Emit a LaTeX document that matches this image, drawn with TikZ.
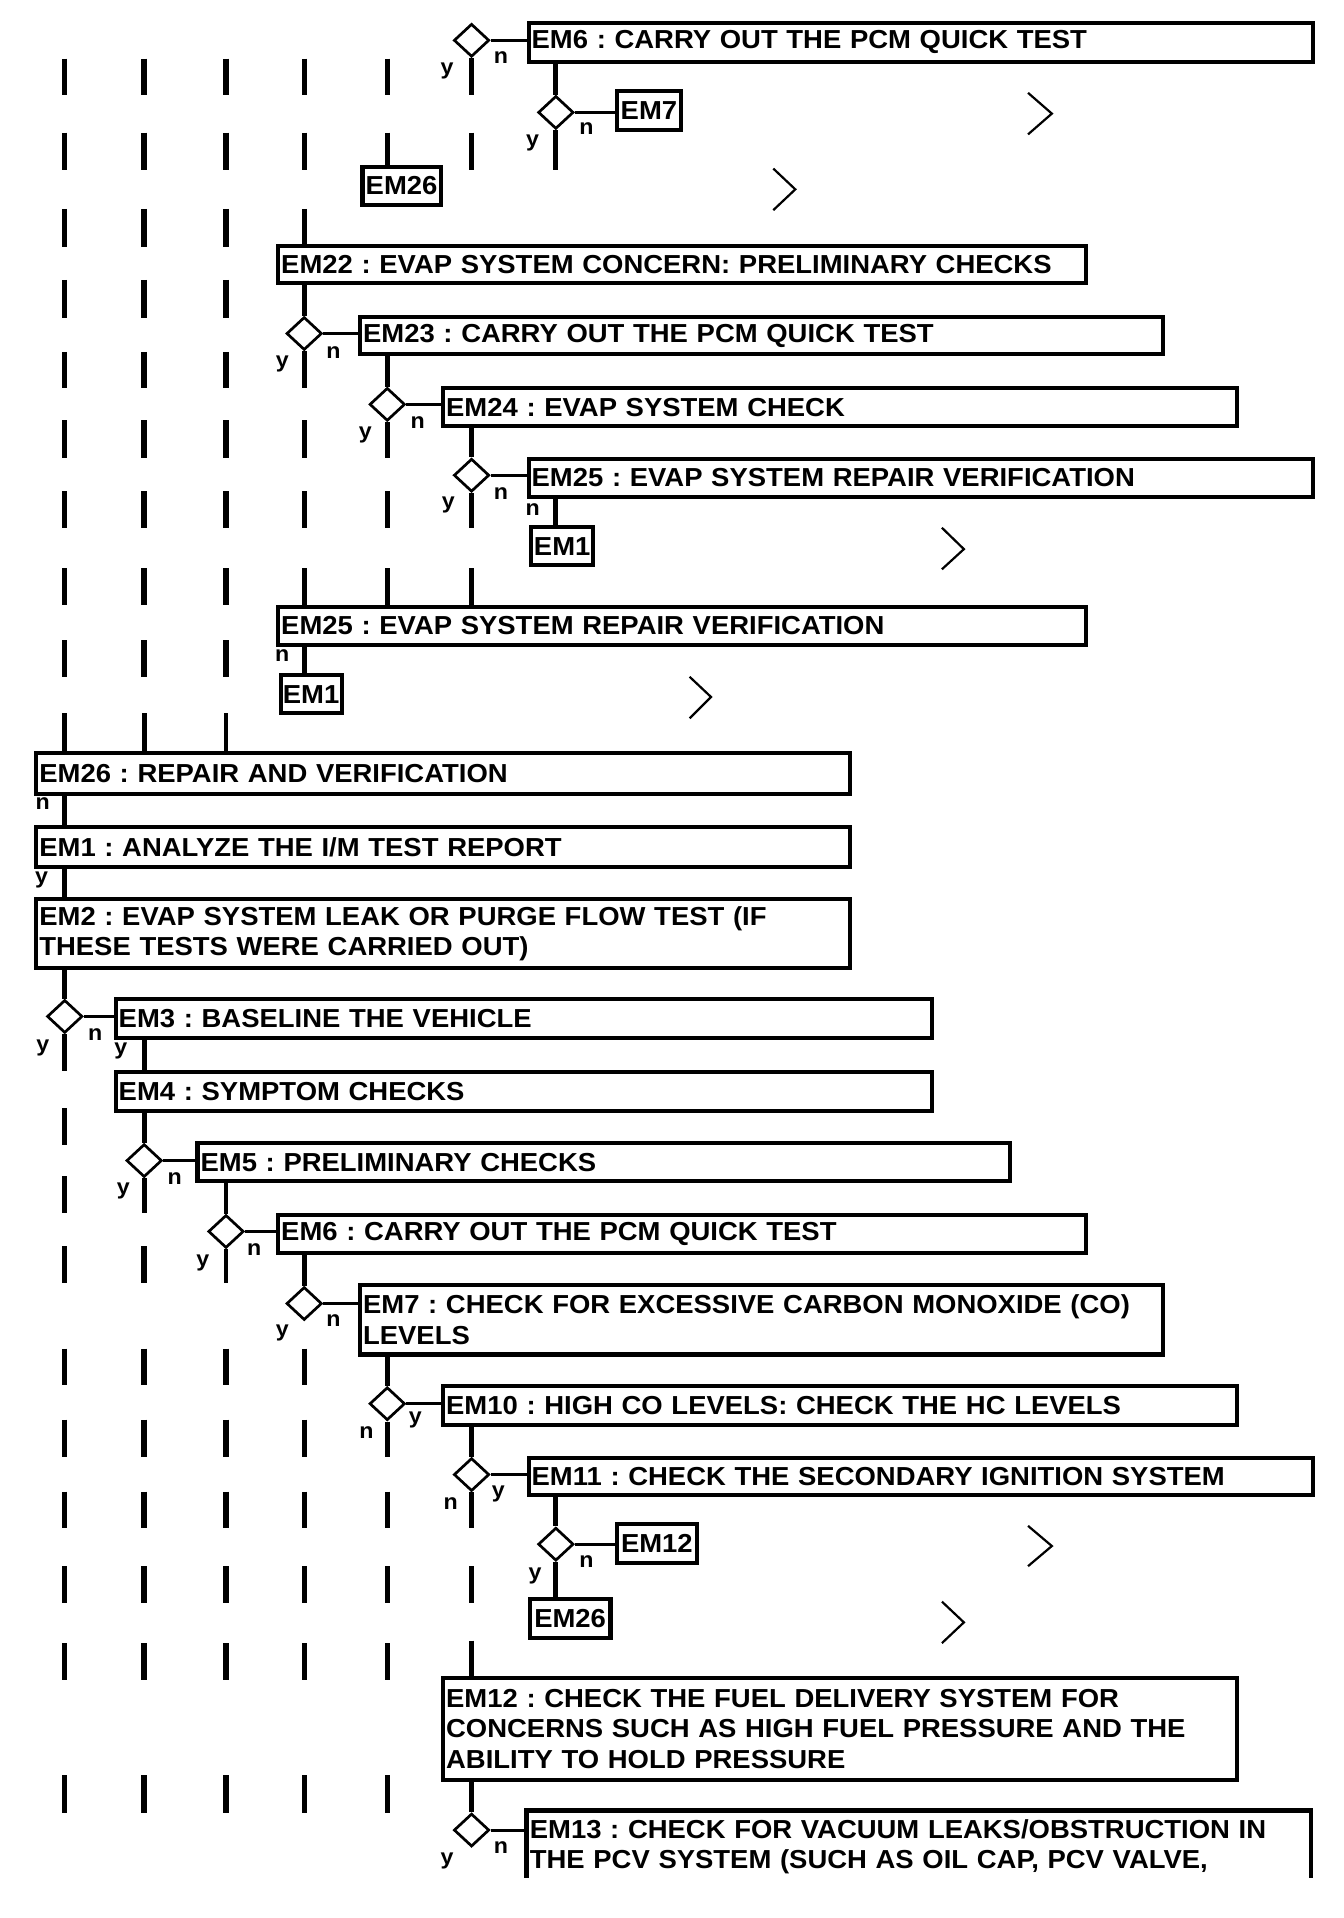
\documentclass[tikz,border=0pt]{standalone}
\usepackage{fontspec}
\setmainfont{Liberation Sans}[FakeStretch=1.055]
\usetikzlibrary{shapes.geometric}
\frenchspacing
\newcommand\boxfnt{\fontsize{21.3}{25}\selectfont\bfseries\frenchspacing}
\newcommand\lblfnt{\fontsize{18}{20}\selectfont\bfseries}
\newcommand\flowbox[6]{%
  \pgfmathsetmacro\bw{#4-#2}\pgfmathsetmacro\bh{#5-#3}\pgfmathsetmacro\tw{#4-#2-5}%
  \node[box, minimum width=\bw pt, minimum height=\bh pt, text width=\tw pt] (#1) at (#2,#3) {#6};}
\newcommand\smallflowbox[6]{%
  \pgfmathsetmacro\bw{#4-#2}\pgfmathsetmacro\bh{#5-#3}%
  \node[box, inner xsep=0pt, align=center, minimum width=\bw pt, minimum height=\bh pt] (#1) at (#2,#3) {#6};}
\newcommand\flowdia[3]{\node[dia] (#1) at (#2,#3) {};}
\begin{document}
\begin{tikzpicture}[x=1pt,y=-1pt,
  box/.style={draw, line width=3.4pt, anchor=north west, inner xsep=2.5pt, inner ysep=0pt, align=left, font=\boxfnt},
  dia/.style={diamond, draw, line width=2.2pt, minimum width=29pt, minimum height=27pt, inner sep=0pt},
  conn/.style={line width=4pt},
  link/.style={line width=2.5pt},
  seg/.style={line width=4.4pt},
  lbl/.style={font=\lblfnt, inner sep=0pt},
  chev/.style={line width=1.8pt}]
\useasboundingbox[fill=white] (0,0) rectangle (1100,1570);
% columns
\coordinate (c1) at (53,0);
\coordinate (c2) at (118,0);
\coordinate (c3) at (185,0);
\coordinate (c4) at (249,0);
\coordinate (c5) at (317,0);
\coordinate (c6) at (386,0);
\coordinate (c7) at (455,0);
% boxes
\flowbox{b1}{431}{17}{1073}{49}{EM6 : CARRY OUT THE PCM QUICK TEST}
\smallflowbox{b2}{503}{73}{556}{105}{EM7}
\smallflowbox{b3}{295}{135}{359}{166}{EM26}
\flowbox{b4}{226}{200}{887}{230}{EM22 : EVAP SYSTEM CONCERN: PRELIMINARY CHECKS}
\flowbox{b5}{293}{258}{950}{288}{EM23 : CARRY OUT THE PCM QUICK TEST}
\flowbox{b6}{361}{316}{1011}{347}{EM24 : EVAP SYSTEM CHECK}
\flowbox{b7}{431}{374}{1073}{405}{EM25 : EVAP SYSTEM REPAIR VERIFICATION}
\smallflowbox{b8}{433}{430}{484}{461}{EM1}
\flowbox{b9}{226}{495}{887}{526}{EM25 : EVAP SYSTEM REPAIR VERIFICATION}
\smallflowbox{b10}{228}{551}{278}{582}{EM1}
\flowbox{b11}{28}{615}{694}{648}{EM26 : REPAIR AND VERIFICATION}
\flowbox{b12}{28}{675}{694}{708}{EM1 : ANALYZE THE I/M TEST REPORT}
\flowbox{b13}{28}{734}{694}{791}{EM2 : EVAP SYSTEM LEAK OR PURGE FLOW TEST (IF\\THESE TESTS WERE CARRIED OUT)}
\flowbox{b14}{93}{816}{761}{848}{EM3 : BASELINE THE VEHICLE}
\flowbox{b15}{93}{876}{761}{908}{EM4 : SYMPTOM CHECKS}
\flowbox{b16}{160}{934}{825}{965}{EM5 : PRELIMINARY CHECKS}
\flowbox{b17}{226}{993}{887}{1024}{EM6 : CARRY OUT THE PCM QUICK TEST}
\flowbox{b18}{293}{1050}{950}{1107}{EM7 : CHECK FOR EXCESSIVE CARBON MONOXIDE (CO)\\LEVELS}
\flowbox{b19}{361}{1133}{1011}{1165}{EM10 : HIGH CO LEVELS: CHECK THE HC LEVELS}
\flowbox{b20}{431}{1192}{1073}{1222}{EM11 : CHECK THE SECONDARY IGNITION SYSTEM}
\smallflowbox{b21}{503}{1246}{569}{1278}{EM12}
\smallflowbox{b22}{432}{1307}{498}{1339}{EM26}
\flowbox{b23}{361}{1372}{1011}{1455}{EM12 : CHECK THE FUEL DELIVERY SYSTEM FOR\\CONCERNS SUCH AS HIGH FUEL PRESSURE AND THE\\ABILITY TO HOLD PRESSURE}
\begin{scope}
  \clip (0,0) rectangle (1100,1537);
  \draw[line width=3.4pt] (431,1560) -- (431,1482) -- (1073,1482) -- (1073,1560);
  \node[anchor=north west, font=\boxfnt, align=left, text width=637pt, inner xsep=2.5pt, inner ysep=0pt] (b24) at (431,1489)
    {EM13 : CHECK FOR VACUUM LEAKS/OBSTRUCTION IN\\THE PCV SYSTEM (SUCH AS OIL CAP, PCV VALVE,};
\end{scope}
% diamonds
\flowdia{d1}{386}{33}
\flowdia{d2}{455}{92}
\flowdia{d3}{249}{273}
\flowdia{d4}{317}{331}
\flowdia{d5}{386}{389}
\flowdia{d6}{53}{832}
\flowdia{d7}{118}{950}
\flowdia{d8}{185}{1008}
\flowdia{d9}{249}{1067}
\flowdia{d10}{317}{1149}
\flowdia{d11}{386}{1207}
\flowdia{d12}{455}{1264}
\flowdia{d13}{386}{1498}
% links diamond -> box
\draw[link] (d1.east) -- (d1.east -| b1.west);
\draw[link] (d2.east) -- (d2.east -| b2.west);
\draw[link] (d3.east) -- (d3.east -| b5.west);
\draw[link] (d4.east) -- (d4.east -| b6.west);
\draw[link] (d5.east) -- (d5.east -| b7.west);
\draw[link] (d6.east) -- (d6.east -| b14.west);
\draw[link] (d7.east) -- (d7.east -| b16.west);
\draw[link] (d8.east) -- (d8.east -| b17.west);
\draw[link] (d9.east) -- (d9.east -| b18.west);
\draw[link] (d10.east) -- (d10.east -| b19.west);
\draw[link] (d11.east) -- (d11.east -| b20.west);
\draw[link] (d12.east) -- (d12.east -| b21.west);
\draw[link] (d13.east) -- (d13.east -| b24.west);
% free ends
\coordinate (e1) at (386,78);
\coordinate (e2) at (455,139);
\coordinate (e3) at (249,318);
\coordinate (e4) at (317,375);
\coordinate (e5) at (386,432);
\coordinate (e6) at (53,877);
\coordinate (e7) at (118,993);
\coordinate (e8) at (185,1050);
\coordinate (e10) at (317,1193);
\coordinate (e11) at (386,1251);
\coordinate (s1) at (386,1343);
\coordinate (s2) at (317,108.5);
\coordinate (s3) at (249,171);
% vertical connectors
\draw[conn] (b1.south -| c7) -- (d2.north);
\draw[conn] (d1.south) -- (e1);
\draw[conn] (d2.south) -- (e2);
\draw[conn] (s2) -- (b3.north -| c5);
\draw[conn] (s3) -- (b4.north -| c4);
\draw[conn] (b4.south -| c4) -- (d3.north);
\draw[conn] (d3.south) -- (e3);
\draw[conn] (b5.south -| c5) -- (d4.north);
\draw[conn] (d4.south) -- (e4);
\draw[conn] (b6.south -| c6) -- (d5.north);
\draw[conn] (d5.south) -- (e5);
\draw[conn] (b7.south -| c7) -- (b8.north -| c7);
\foreach \c in {c4,c5,c6} \draw[conn] (\c |- 0,465) -- (b9.north -| \c);
\draw[conn] (b9.south -| c4) -- (b10.north -| c4);
\foreach \c in {c1,c2,c3} \draw[conn] (\c |- 0,584) -- (b11.north -| \c);
\draw[conn] (b11.south -| c1) -- (b12.north -| c1);
\draw[conn] (b12.south -| c1) -- (b13.north -| c1);
\draw[conn] (b13.south -| c1) -- (d6.north);
\draw[conn] (d6.south) -- (e6);
\draw[conn] (b14.south -| c2) -- (b15.north -| c2);
\draw[conn] (b15.south -| c2) -- (d7.north);
\draw[conn] (d7.south) -- (e7);
\draw[conn] (b16.south -| c3) -- (d8.north);
\draw[conn] (d8.south) -- (e8);
\draw[conn] (b17.south -| c4) -- (d9.north);
\draw[conn] (b18.south -| c5) -- (d10.north);
\draw[conn] (d10.south) -- (e10);
\draw[conn] (b19.south -| c6) -- (d11.north);
\draw[conn] (d11.south) -- (e11);
\draw[conn] (b20.south -| c7) -- (d12.north);
\draw[conn] (d12.south) -- (b22.north -| c7);
\draw[conn] (s1) -- (b23.north -| c6);
\draw[conn] (b23.south -| c6) -- (d13.north);
% continuation dashes
\foreach \x in {53,118,185,249,317} \draw[seg] (\x,48) -- (\x,78);
\foreach \x in {53,118,185,249,386} \draw[seg] (\x,108.5) -- (\x,139);
\foreach \x in {53,118,185} {
  \draw[seg] (\x,171) -- (\x,202);
  \draw[seg] (\x,229) -- (\x,260);
  \draw[seg] (\x,288) -- (\x,318);
  \draw[seg] (\x,465) -- (\x,495);
  \draw[seg] (\x,524) -- (\x,554);}
\foreach \x in {53,118,185,249} \draw[seg] (\x,344) -- (\x,375);
\foreach \x in {53,118,185,249,317} \draw[seg] (\x,402) -- (\x,432);
\draw[seg] (53,907) -- (53,937);
\draw[seg] (53,963) -- (53,993);
\foreach \x in {53,118} \draw[seg] (\x,1020) -- (\x,1050);
\foreach \x in {53,118,185,249} {
  \draw[seg] (\x,1104) -- (\x,1134);
  \draw[seg] (\x,1162) -- (\x,1193);}
\foreach \x in {53,118,185,249,317} {
  \draw[seg] (\x,1221) -- (\x,1251);
  \draw[seg] (\x,1345) -- (\x,1375);
  \draw[seg] (\x,1453) -- (\x,1484);}
\foreach \x in {53,118,185,249,317,386} \draw[seg] (\x,1282) -- (\x,1312);
% labels
\node[lbl] (l1y) at (366,58) {y};
\node[lbl] (l1n) at (410,47) {n};
\node[lbl] (l2y) at (436,117) {y};
\node[lbl] (l2n) at (480,105) {n};
\node[lbl] (l3y) at (231,298) {y};
\node[lbl] (l3n) at (273,289) {n};
\node[lbl] (l4y) at (299,356) {y};
\node[lbl] (l4n) at (342,346) {n};
\node[lbl] (l5y) at (367,413) {y};
\node[lbl] (l5n) at (410,404) {n};
\node[lbl] (l7n) at (436,417) {n};
\node[lbl] (l9n) at (231,537) {n};
\node[lbl] (l11n) at (35,658) {n};
\node[lbl] (l12y) at (34,720) {y};
\node[lbl] (l6y) at (35,858) {y};
\node[lbl] (l6n) at (78,847) {n};
\node[lbl] (l14y) at (99,860) {y};
\node[lbl] (l7y) at (101,975) {y};
\node[lbl] (l7nn) at (143,965) {n};
\node[lbl] (l8y) at (166,1034) {y};
\node[lbl] (l8n) at (208,1023) {n};
\node[lbl] (l9y) at (231,1091) {y};
\node[lbl] (l9nn) at (273,1081) {n};
\node[lbl] (l10n) at (300,1173) {n};
\node[lbl] (l10y) at (340,1162) {y};
\node[lbl] (l11nn) at (369,1231) {n};
\node[lbl] (l11y) at (408,1223) {y};
\node[lbl] (l12yy) at (438,1290) {y};
\node[lbl] (l12n) at (480,1278) {n};
\node[lbl] (l13y) at (366,1523) {y};
\node[lbl] (l13n) at (410,1512) {n};
% chevrons
\draw[chev] (841.5,76) -- (861,93) -- (841.5,110);
\draw[chev] (633,138) -- (651,155) -- (633,172);
\draw[chev] (771,432) -- (789,449.5) -- (771,466);
\draw[chev] (564.5,554) -- (582,570.5) -- (564.5,588);
\draw[chev] (841.5,1249) -- (861,1265.5) -- (841.5,1282);
\draw[chev] (771,1311) -- (789,1328) -- (771,1345);
\end{tikzpicture}
\end{document}
